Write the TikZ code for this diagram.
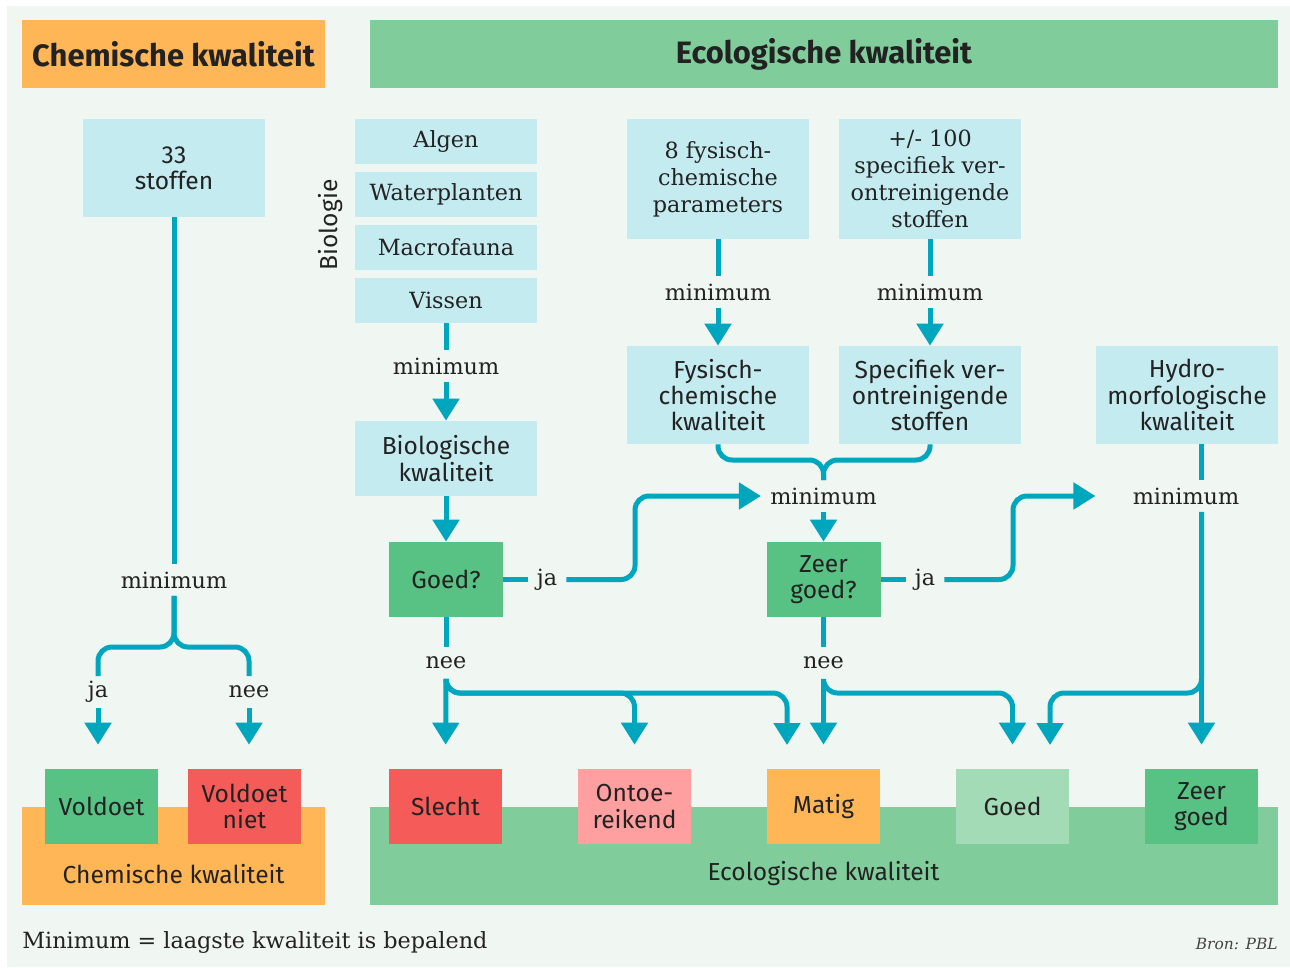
\documentclass[tikz,border=0pt]{standalone}
\usepackage{fontspec}
\setmainfont{Fira Sans}
\newfontfamily\slabfont{DejaVu Serif}
\usetikzlibrary{arrows.meta,positioning}

\definecolor{panelbg}{HTML}{F0F6F2}
\definecolor{lightblue}{HTML}{C4EBF0}
\definecolor{flowteal}{HTML}{00A6BE}
\definecolor{chemorange}{HTML}{FFB657}
\definecolor{ecogreen}{HTML}{80CD9B}
\definecolor{okgreen}{HTML}{57C283}
\definecolor{badred}{HTML}{F55B59}
\definecolor{pinkred}{HTML}{FF9F9F}
\definecolor{palegreen}{HTML}{A3DBB6}
\definecolor{darktext}{HTML}{222222}

\newcommand{\sansbody}{\fontsize{14}{15}\selectfont}
\newcommand{\slabbody}{\slabfont\fontsize{12.7}{15.4}\selectfont}
\newcommand{\hdrfont}{\bfseries\fontsize{17.6}{19}\selectfont}

\tikzset{
  header/.style={inner sep=0pt, minimum height=1.36cm, font=\hdrfont, text=darktext},
  infobox/.style={fill=lightblue, inner sep=0pt, align=center, text=darktext,
    font=\sansbody, minimum width=3.64cm},
  slabbox/.style={infobox, font=\slabbody},
  decision/.style={fill=okgreen, inner sep=0pt, align=center, text=darktext,
    font=\sansbody, minimum width=2.28cm, minimum height=1.5cm},
  result/.style={inner sep=0pt, align=center, text=darktext, font=\sansbody,
    minimum width=2.26cm, minimum height=1.5cm},
  band/.style={inner sep=0pt, minimum height=1.96cm},
  flowlabel/.style={inner xsep=0.18cm, inner ysep=0pt, minimum height=0.62cm,
    font=\slabbody, text=darktext},
  flow/.style={draw=flowteal, line width=0.1cm, rounded corners=0.28cm},
  flowarr/.style={flow, -{Triangle[width=0.52cm,length=0.44cm]}},
  into/.style={flowarr, shorten >=0.48cm}
}

\begin{document}
\begin{tikzpicture}[x=0.02cm,y=-0.02cm]
  % canvas
  \useasboundingbox (0,0) rectangle (1290,967);
  \fill[white] (0,0) rectangle (1290,967);
  \fill[panelbg] (7,6) rectangle (1290,967);

  % headers
  \node[header,fill=chemorange,minimum width=6.06cm] (chemhead) at (173.5,54) {Chemische kwaliteit};
  \node[header,fill=ecogreen,minimum width=18.16cm] (ecohead) at (824,54) {Ecologische kwaliteit};

  % chemical column
  \node[infobox,minimum height=1.96cm] (stoffen) at (174,168) {33\\stoffen};
  \node[flowlabel] (minchem) at (174,580) {minimum};
  \coordinate (chemsplit) at (174,647);
  \node[flowlabel] (jachem) at (98,692) {ja};
  \node[flowlabel] (neechem) at (249,692) {nee};

  % biology column
  \node[slabbox,minimum height=0.9cm] (algen) at (446,141.5) {Algen};
  \node[slabbox,minimum height=0.9cm] (waterpl) at (446,194.5) {Waterplanten};
  \node[slabbox,minimum height=0.9cm] (macro) at (446,247.5) {Macrofauna};
  \node[slabbox,minimum height=0.9cm] (vissen) at (446,300.5) {Vissen};
  \node[font=\sansbody,text=darktext,rotate=90,inner sep=0pt] (biologie) at (331,225) {Biologie};
  \node[flowlabel] (minbio) at (446,366) {minimum};
  \node[infobox,minimum height=1.5cm] (biokwal) at (446,458.5) {Biologische\\kwaliteit};
  \node[decision] (goed) at (446,579.5) {Goed?};
  \node[flowlabel] (jagoed) at (547,579.5) {ja};
  \node[flowlabel] (neegoed) at (446,663) {nee};
  \coordinate (jogbio) at (635,496);
  \coordinate (nrow) at (0,693);

  % physico-chemical and specific columns
  \node[slabbox,minimum height=2.4cm] (fysparam) at (718,179) {8 fysisch-\\chemische\\parameters};
  \node[slabbox,minimum height=2.4cm] (specparam) at (930,179) {+/- 100\\specifiek ver-\\ontreinigende\\stoffen};
  \node[flowlabel] (minfys) at (718,292) {minimum};
  \node[flowlabel] (minspec) at (930,292) {minimum};
  \node[infobox,minimum height=1.96cm] (fyskwal) at (718,395) {Fysisch-\\chemische\\kwaliteit};
  \node[infobox,minimum height=1.96cm] (speckwal) at (930,395) {Specifiek ver-\\ontreinigende\\stoffen};
  \node[infobox,minimum height=1.96cm] (hydro) at (1187,395) {Hydro-\\morfologische\\kwaliteit};
  \coordinate (ecosplit) at (823.5,460);
  \node[flowlabel] (mineco) at (823.5,496) {minimum};
  \node[decision] (zeergoed) at (823.5,579.5) {Zeer\\goed?};
  \node[flowlabel] (jazeer) at (925,579.5) {ja};
  \node[flowlabel] (neezeer) at (823.5,663) {nee};
  \coordinate (jogeco) at (1013,496);
  \node[flowlabel] (minhydro) at (1186,496) {minimum};

  % outcome bands
  \node[band,fill=chemorange,minimum width=6.06cm] (chemband) at (173.5,856) {};
  \node[font=\sansbody,text=darktext] (chembandtext) at (173.5,874) {Chemische kwaliteit};
  \node[band,fill=ecogreen,minimum width=18.16cm] (ecoband) at (824,856) {};
  \node[font=\sansbody,text=darktext] (ecobandtext) at (823.5,874) {Ecologische kwaliteit};

  \node[result,fill=okgreen] (voldoet) at (101.5,806.5) {Voldoet};
  \node[result,fill=badred] (voldniet) at (244.5,806.5) {Voldoet\\niet};
  \node[result,fill=badred] (slecht) at (445.5,806.5) {Slecht};
  \node[result,fill=pinkred] (ontoe) at (634.5,806.5) {Ontoe-\\reikend};
  \node[result,fill=chemorange] (matig) at (823.5,806.5) {Matig};
  \node[result,fill=palegreen] (goedres) at (1012.5,806.5) {Goed};
  \node[result,fill=okgreen] (zeergoedres) at (1201.5,806.5) {Zeer\\goed};
  \coordinate (matigin) at (787,769);
  \coordinate (goedin) at (1050,769);

  % footer
  \node[anchor=west,inner sep=0pt,font=\slabbody,text=darktext] (legend) at (22,942) {Minimum = laagste kwaliteit is bepalend};
  \node[anchor=east,inner sep=0pt,font=\slabfont\itshape\fontsize{8.8}{11}\selectfont,text=darktext!85] (bron) at (1278,944) {Bron: PBL};

  % chemical flow
  \draw[flow] (stoffen.south) -- (minchem.north);
  \draw[flow] (minchem.south) -- (chemsplit) -| (jachem.north);
  \draw[flow] (minchem.south) -- (chemsplit) -| (neechem.north);
  \draw[into] (jachem.south) -- (jachem.south |- voldoet.north);
  \draw[into] (neechem.south) -- (neechem.south |- voldniet.north);

  % biology flow
  \draw[flow] (vissen.south) -- (minbio.north);
  \draw[flowarr] (minbio.south) -- (biokwal.north);
  \draw[flowarr] (biokwal.south) -- (goed.north);
  \draw[flow] (goed.east) -- (jagoed.west);
  \draw[flowarr] (jagoed.east) -| (jogbio) -- (mineco.west);
  \draw[flow] (goed.south) -- (neegoed.north);
  \draw[into] (neegoed.south) -- (slecht.north);
  \draw[into] (neegoed.south) |- (ontoe.north |- nrow) -- (ontoe.north);
  \draw[into] (neegoed.south) |- (matigin |- nrow) -- (matigin);

  % physico-chemical flow
  \draw[flow] (fysparam.south) -- (minfys.north);
  \draw[flowarr] (minfys.south) -- (fyskwal.north);
  \draw[flow] (specparam.south) -- (minspec.north);
  \draw[flowarr] (minspec.south) -- (speckwal.north);
  \draw[flow] (fyskwal.south) |- (ecosplit) -- (mineco.north);
  \draw[flow] (speckwal.south) |- (ecosplit) -- (mineco.north);
  \draw[flowarr] (mineco.south) -- (zeergoed.north);
  \draw[flow] (zeergoed.east) -- (jazeer.west);
  \draw[flowarr,shorten >=0.56cm] (jazeer.east) -| (jogeco) -- (minhydro.west);
  \draw[flow] (zeergoed.south) -- (neezeer.north);
  \draw[into] (neezeer.south) -- (matig.north);
  \draw[into] (neezeer.south) |- (goedres.north |- nrow) -- (goedres.north);

  % hydromorphology flow
  \draw[flow] (hydro.south -| zeergoedres.north) -- (minhydro.north -| zeergoedres.north);
  \draw[into] (minhydro.south -| zeergoedres.north) -- (zeergoedres.north);
  \draw[into] (minhydro.south -| zeergoedres.north) |- (goedin |- nrow) -- (goedin);
\end{tikzpicture}
\end{document}
